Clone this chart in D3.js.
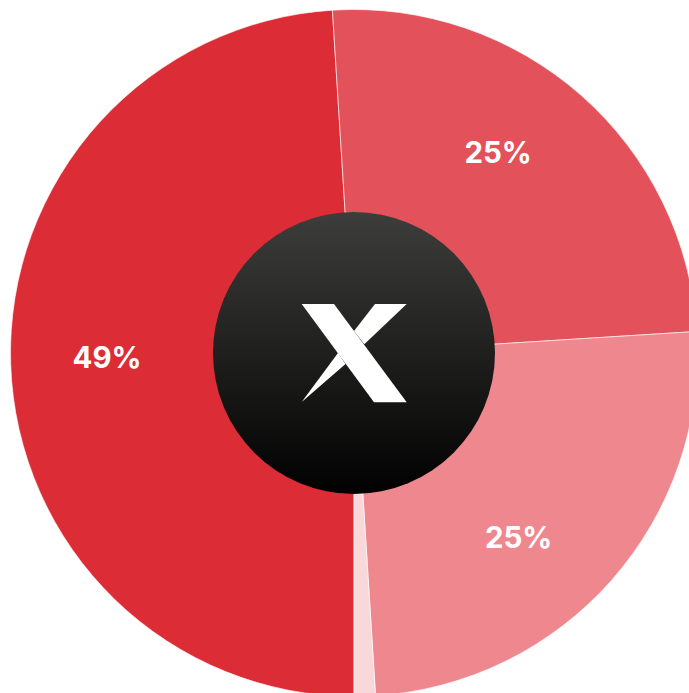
<!DOCTYPE html>
<html>
<head>
<meta charset="utf-8">
<script src="https://cdn.jsdelivr.net/npm/d3@7"></script>
<style>
  html, body { margin: 0; padding: 0; background: #fff; overflow: hidden; }
  svg { display: block; }
</style>
</head>
<body>
<svg id="chart"></svg>
<script>
// data
const categories = ["A", "B", "C", "D"];
const values = [49, 25, 25, 1];
const colors = ["#dc2c36", "#e3525a", "#ee888e", "#f9d8da"];

const width = 689;
const height = 693;
const cx = 354, cy = 353;
const outerR = 343.5;
const innerR = 141;
const labelR = 247;
// small angular nudges (degrees) for the labels, as in the original
const labelShift = [0.9, -5.7, 6.8, 0];

const svg = d3.select("#chart").attr("width", width).attr("height", height);

const pie = d3.pie()
  .sort(null)
  .value((d) => d)
  .startAngle(Math.PI)
  .endAngle(Math.PI * 3);

const arcs = pie(values);

const arc = d3.arc().innerRadius(0).outerRadius(outerR);

const g = svg.append("g").attr("transform", "translate(" + cx + "," + cy + ")");

g.selectAll("path.slice")
  .data(arcs)
  .enter()
  .append("path")
  .attr("class", "slice")
  .attr("d", arc)
  .attr("fill", (d, i) => colors[i])
  .attr("stroke", "#ffffff")
  .attr("stroke-opacity", 0.6)
  .attr("stroke-width", 1);

// labels
g.selectAll("text.lbl")
  .data(arcs.filter((d) => d.data >= 5))
  .enter()
  .append("text")
  .attr("class", "lbl")
  .attr("transform", (d) => {
    const a = (d.startAngle + d.endAngle) / 2 + (labelShift[d.index] * Math.PI) / 180;
    return "translate(" + Math.sin(a) * labelR + "," + -Math.cos(a) * labelR + ")";
  })
  .attr("text-anchor", "middle")
  .attr("dy", "0.36em")
  .attr("fill", "#ffffff")
  .style("font-family", "Inter, 'Liberation Sans', Arial, sans-serif")
  .style("font-weight", "bold")
  .style("font-size", "29.5px")
  .text((d) => Math.round(d.data) + "%");

// center badge
const defs = svg.append("defs");
const grad = defs.append("linearGradient")
  .attr("id", "badge")
  .attr("x1", 0).attr("y1", 0).attr("x2", 0).attr("y2", 1);
grad.append("stop").attr("offset", "0%").attr("stop-color", "#3d3d3b");
grad.append("stop").attr("offset", "100%").attr("stop-color", "#010101");

g.append("circle")
  .attr("r", innerR)
  .attr("fill", "url(#badge)");

// X logo
const logo = g.append("g").attr("fill", "#ffffff");
logo.append("path").attr("d", "M-52.3,-49L-20,-49L52.7,49.3L20,49.3Z");
logo.append("path").attr("d", "M21,-49L52.7,-49L10.3,-8.7L0,-22Z");
logo.append("path").attr("d", "M-16,0L-8.5,11L-52.3,49Z");
</script>
</body>
</html>
